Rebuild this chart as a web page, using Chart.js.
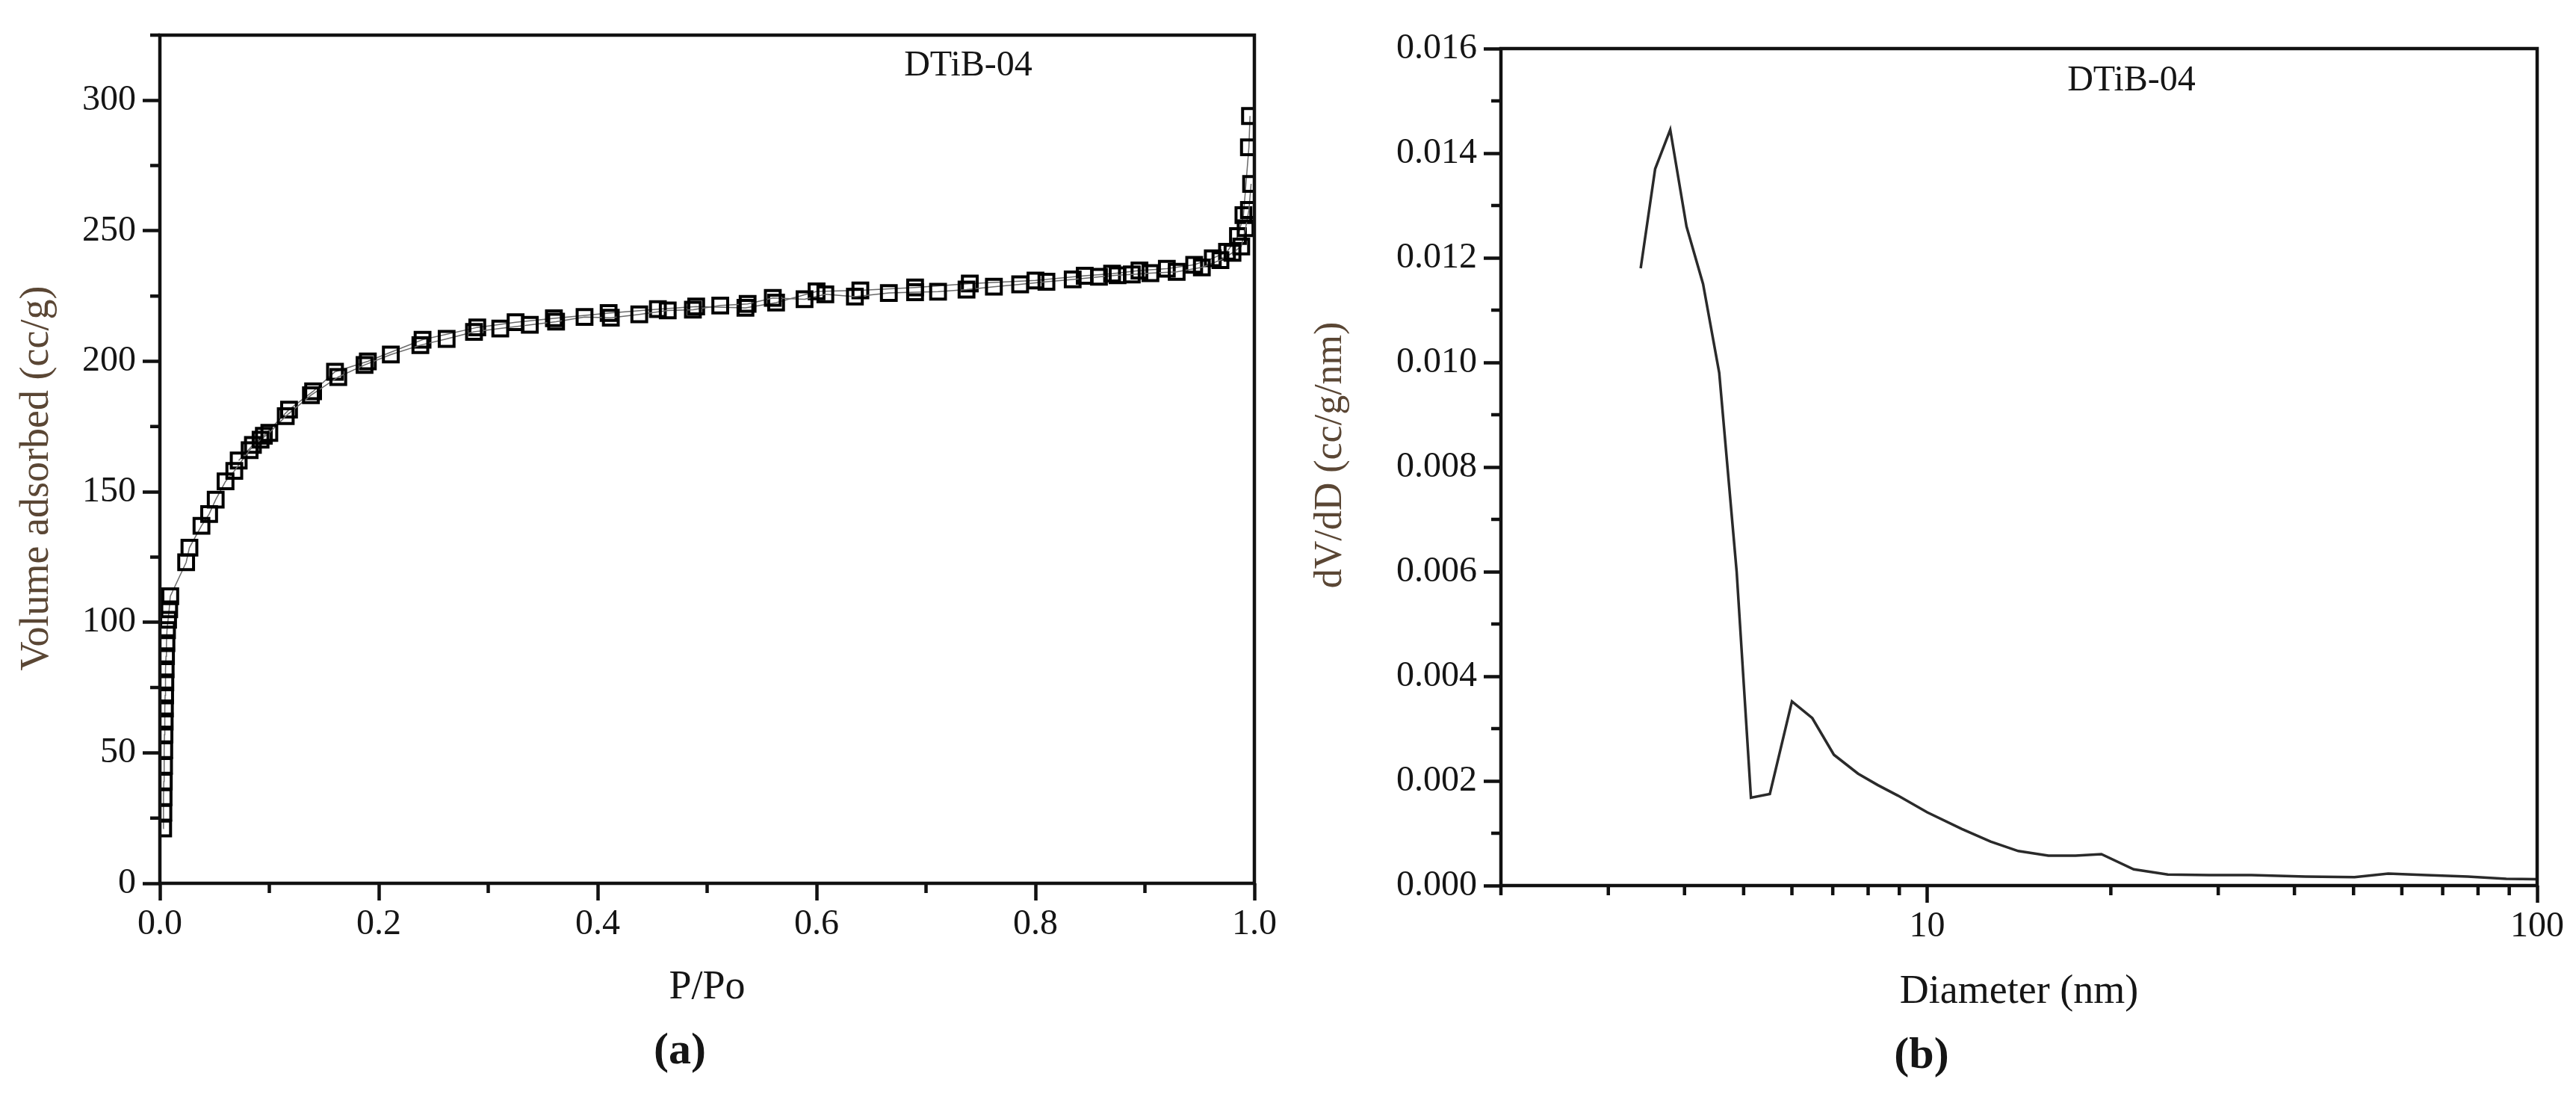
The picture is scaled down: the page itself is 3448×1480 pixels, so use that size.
<!DOCTYPE html>
<html>
<head>
<meta charset="utf-8">
<script src="https://cdn.jsdelivr.net/npm/chart.js@4.4.1/dist/chart.umd.min.js"></script>
<style>
  html, body { margin: 0; padding: 0; background: #ffffff; }
  #wrap { position: relative; width: 3448px; height: 1480px; background: #ffffff; }
  #isoCanvas { position: absolute; left: 0; top: 0; }
  #psdCanvas { position: absolute; left: 1720px; top: 0; }
</style>
</head>
<body>
<div id="wrap">
  <canvas id="isoCanvas" width="1720" height="1480"></canvas>
  <canvas id="psdCanvas" width="1728" height="1480"></canvas>
</div>
<script>
// ---------------- DATA ----------------
const sampleName = 'DTiB-04';

// (a) N2 isotherm: adsorption branch
const isoAdsP = [0.003,0.0032,0.0034,0.0036,0.0038,0.004,0.0042,0.0044,0.0046,0.0048,0.005,0.0053,0.0056,0.006,0.0065,0.0075,0.0085,0.0095,
  0.024,0.027,0.038,0.045,0.051,0.060,0.068,0.082,0.092,0.100,0.115,0.138,0.163,0.187,0.211,0.238,0.262,0.287,0.311,0.338,0.362,0.388,
  0.412,0.438,0.464,0.487,0.512,0.537,0.560,0.589,0.608,0.635,0.666,0.690,0.711,0.737,0.762,0.786,0.810,0.834,0.858,0.875,0.888,0.905,
  0.929,0.952,0.969,0.980,0.988,0.992,0.995,0.997];
const isoAdsV = [21,27,33,39,45,51,57,62,67,72,77,82,87,92,97,101,105,110,
  123,128.6,137,141.5,147,154,158,166,170,172.6,179,187,194,198.6,202.6,206.2,208.6,211.3,212.6,214,215.2,217,
  216.7,218,219.5,219.8,221.4,222,224.3,223.8,225.7,224.8,226.2,226.5,226.7,227.5,228.6,229.5,230.5,231.4,232.4,233,233.3,233.8,
  234.3,236,238.8,241.6,244,251,258,268];

// (a) N2 isotherm: desorption branch
const isoDesP = [0.996,0.995,0.990,0.985,0.975,0.962,0.945,0.920,0.895,0.870,0.845,0.800,0.740,0.690,0.640,0.600,0.563,0.535,0.490,
  0.455,0.410,0.360,0.325,0.290,0.240,0.190,0.160,0.140,0.118,0.095,0.085,0.072];
const isoDesV = [294,282,256,248,242,239.5,237,235.5,234.8,233.6,232.8,231,229.8,228.3,227.2,226.8,222.5,220.5,221,
  220,218.5,216.5,215,213,208.3,200,196,188.5,181.5,171.5,168,162];

// (b) pore size distribution
const psdD = [3.39,3.58,3.79,4.03,4.29,4.56,4.87,5.14,5.52,6.0,6.48,7.03,7.7,8.3,8.95,10.0,11.4,12.7,14.1,15.8,17.5,19.3,
  21.8,24.8,29,34,41.7,50.2,57,65.8,77,89,100];
const psdV = [0.0118,0.0137,0.01445,0.0126,0.0115,0.0098,0.0060,0.00168,0.00175,0.00352,0.0032,0.0025,0.00214,0.00192,0.00172,
  0.0014,0.00108,0.00084,0.00066,0.00057,0.00057,0.0006,0.00031,0.00021,0.0002,0.0002,0.00017,0.00016,0.00023,0.0002,0.00017,
  0.00013,0.00012];

// tick values
const isoXTicks = [0, 0.2, 0.4, 0.6, 0.8, 1.0];
const isoXMinor = [0.1, 0.3, 0.5, 0.7, 0.9];
const isoYTicks = [0, 50, 100, 150, 200, 250, 300];
const isoYMinor = [25, 75, 125, 175, 225, 275, 325];
const psdXTicks = [10, 100];
const psdXMinor = [2, 3, 4, 5, 6, 7, 8, 9, 20, 30, 40, 50, 60, 70, 80, 90];
const psdYTicks = [0, 0.002, 0.004, 0.006, 0.008, 0.010, 0.012, 0.014, 0.016];
const psdYMinor = [0.001, 0.003, 0.005, 0.007, 0.009, 0.011, 0.013, 0.015];

// ---------------- styling / helpers ----------------
const SERIF = "'Liberation Serif', 'Times New Roman', 'DejaVu Serif', serif";
const INK = '#151515';
const TITLE_BROWN = '#5a4634';

const framePlugin = {
  id: 'frame',
  afterDatasetsDraw(chart, args, opts) {
    const { ctx, chartArea: a, scales } = chart;
    ctx.save();
    ctx.strokeStyle = opts.color;
    ctx.lineWidth = opts.width;
    ctx.lineCap = 'butt';
    ctx.strokeRect(a.left, a.top, a.right - a.left, a.bottom - a.top);
    ctx.beginPath();
    (opts.xMinor || []).forEach(v => {
      const x = scales.x.getPixelForValue(v);
      ctx.moveTo(x, a.bottom);
      ctx.lineTo(x, a.bottom + opts.minorLen);
    });
    (opts.yMinor || []).forEach(v => {
      const y = scales.y.getPixelForValue(v);
      ctx.moveTo(a.left, y);
      ctx.lineTo(a.left - opts.minorLen, y);
    });
    ctx.stroke();
    (opts.texts || []).forEach(t => {
      ctx.save();
      ctx.font = t.font;
      ctx.fillStyle = t.color;
      ctx.textAlign = 'center';
      ctx.textBaseline = 'middle';
      ctx.translate(t.x, t.y);
      if (t.rotate) ctx.rotate(t.rotate);
      ctx.fillText(t.text, 0, 0);
      ctx.restore();
    });
    ctx.restore();
  }
};

function fixedWidth(w) { return s => { s.width = w; }; }
function fixedHeight(h) { return s => { s.height = h; }; }
function setTicks(values) { return s => { s.ticks = values.map(v => ({ value: v })); }; }

const tickFont = { family: SERIF, size: 48 };
const axisTitleFont = { family: SERIF, size: 54, lineHeight: 1.2 };

const squareStyle = {
  borderColor: '#6a6a6a',
  borderWidth: 1.5,
  pointStyle: 'rect',
  pointRadius: 14,
  pointBorderWidth: 4,
  pointBorderColor: '#000000',
  pointBackgroundColor: 'rgba(255,255,255,0)',
  tension: 0
};

// ---------------- (a) isotherm ----------------
new Chart(document.getElementById('isoCanvas'), {
  type: 'line',
  data: {
    datasets: [
      Object.assign({ label: 'Adsorption', data: isoAdsP.map((p, i) => ({ x: p, y: isoAdsV[i] })) }, squareStyle),
      Object.assign({ label: 'Desorption', data: isoDesP.map((p, i) => ({ x: p, y: isoDesV[i] })) }, squareStyle)
    ]
  },
  options: {
    responsive: false,
    animation: false,
    devicePixelRatio: 1,
    layout: { padding: { left: 0, right: 41, top: 47, bottom: 126 } },
    plugins: {
      legend: { display: false },
      tooltip: { enabled: false },
      frame: {
        color: '#111111', width: 4.5, minorLen: 13,
        xMinor: isoXMinor, yMinor: isoYMinor,
        texts: [
          { text: 'Volume adsorbed (cc/g)', x: 50, y: 640, rotate: -Math.PI / 2, font: `54px ${SERIF}`, color: TITLE_BROWN },
          { text: sampleName, x: 1296, y: 88, font: `48px ${SERIF}`, color: INK },
          { text: '(a)', x: 910, y: 1407, font: `bold 60px ${SERIF}`, color: INK }
        ]
      }
    },
    scales: {
      x: {
        type: 'linear',
        min: 0, max: 1,
        afterBuildTicks: setTicks(isoXTicks),
        afterFit: fixedHeight(172),
        border: { display: false },
        grid: { display: true, drawOnChartArea: false, drawTicks: true, tickLength: 23, tickWidth: 4.5, tickColor: '#111111' },
        ticks: { font: tickFont, color: INK, padding: 4, maxRotation: 0, callback: v => Number(v).toFixed(1) },
        title: { display: true, text: 'P/Po', font: axisTitleFont, color: INK, padding: { top: 0, bottom: 0 } }
      },
      y: {
        type: 'linear',
        min: 0, max: 325,
        afterBuildTicks: setTicks(isoYTicks),
        afterFit: fixedWidth(214),
        border: { display: false },
        grid: { display: true, drawOnChartArea: false, drawTicks: true, tickLength: 23, tickWidth: 4.5, tickColor: '#111111' },
        ticks: { font: tickFont, color: INK, padding: 9, callback: v => String(v) },
        title: { display: false }
      }
    }
  },
  plugins: [framePlugin]
});

// ---------------- (b) pore size distribution ----------------
new Chart(document.getElementById('psdCanvas'), {
  type: 'line',
  data: {
    datasets: [{
      label: 'dV/dD',
      data: psdD.map((d, i) => ({ x: d, y: psdV[i] })),
      borderColor: '#2a2a2a',
      borderWidth: 3.5,
      pointRadius: 0,
      tension: 0
    }]
  },
  options: {
    responsive: false,
    animation: false,
    devicePixelRatio: 1,
    layout: { padding: { left: 0, right: 52, top: 65, bottom: 120 } },
    plugins: {
      legend: { display: false },
      tooltip: { enabled: false },
      frame: {
        color: '#111111', width: 4.5, minorLen: 13,
        xMinor: psdXMinor, yMinor: psdYMinor,
        texts: [
          { text: 'dV/dD (cc/g/nm)', x: 61, y: 609, rotate: -Math.PI / 2, font: `52px ${SERIF}`, color: TITLE_BROWN },
          { text: sampleName, x: 1133, y: 108, font: `48px ${SERIF}`, color: INK },
          { text: '(b)', x: 852, y: 1413, font: `bold 60px ${SERIF}`, color: INK }
        ]
      }
    },
    scales: {
      x: {
        type: 'logarithmic',
        min: 2, max: 100,
        afterBuildTicks: setTicks(psdXTicks),
        afterFit: fixedHeight(175),
        border: { display: false },
        grid: { display: true, drawOnChartArea: false, drawTicks: true, tickLength: 23, tickWidth: 4.5, tickColor: '#111111' },
        ticks: { font: tickFont, color: INK, padding: 4, maxRotation: 0, autoSkip: false, callback: v => String(v) },
        title: { display: true, text: 'Diameter (nm)', font: axisTitleFont, color: INK, padding: { top: 0, bottom: 0 } }
      },
      y: {
        type: 'linear',
        min: 0, max: 0.016,
        afterBuildTicks: setTicks(psdYTicks),
        afterFit: fixedWidth(289),
        border: { display: false },
        grid: { display: true, drawOnChartArea: false, drawTicks: true, tickLength: 23, tickWidth: 4.5, tickColor: '#111111' },
        ticks: { font: tickFont, color: INK, padding: 9, callback: v => Number(v).toFixed(3) },
        title: { display: false }
      }
    }
  },
  plugins: [framePlugin]
});
</script>
</body>
</html>
